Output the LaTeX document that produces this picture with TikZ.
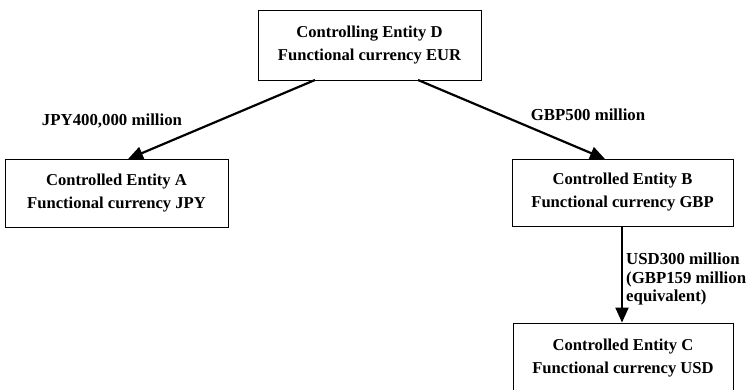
\documentclass[tikz,border=0pt]{standalone}
\usepackage{fontspec}
\setmainfont{Liberation Serif}
\usetikzlibrary{arrows.meta}
\begin{document}
\begin{tikzpicture}[x=1pt,y=-1pt,
  entity/.style={draw, line width=0.9pt, inner sep=0pt, align=center,
    font=\fontsize{16.6}{23}\selectfont\bfseries},
  lbl/.style={inner sep=0pt, align=left, font=\fontsize{16.8}{18.5}\selectfont\bfseries},
  link/.style={line width=2.2pt, -{Triangle[length=15pt,width=13pt]}, shorten >=0pt}]
\useasboundingbox (0,0) rectangle (750,390);
\clip (0,0) rectangle (750,390);
\node[entity, minimum width=223pt, minimum height=70pt] (D) at (369.5,45)
  {Controlling Entity D\\Functional currency EUR};
\node[entity, minimum width=223pt, minimum height=68pt] (A) at (116.5,193)
  {Controlled Entity A\\Functional currency JPY};
\node[entity, minimum width=221pt, minimum height=67pt] (B) at (622.5,192.5)
  {Controlled Entity B\\Functional currency GBP};
\node[entity, minimum width=220pt, minimum height=71pt] (C) at (623,358.5)
  {Controlled Entity C\\Functional currency USD};
\coordinate (d1) at (315,80);
\coordinate (d2) at (418,80);
\coordinate (a1) at (128,159);
\coordinate (b1) at (605,159);
\draw[link] (d1) -- (a1);
\draw[link] (d2) -- (b1);
\draw[link] (B.south -| 622,0) -- (C.north -| 622,0);
\node[lbl] (l1) at (112,121) {JPY400,000 million};
\node[lbl] (l2) at (588,115) {GBP500 million};
\node[lbl, anchor=west] (l3) at (626,279) {USD300 million\\(GBP159 million\\equivalent)};
\end{tikzpicture}
\end{document}
